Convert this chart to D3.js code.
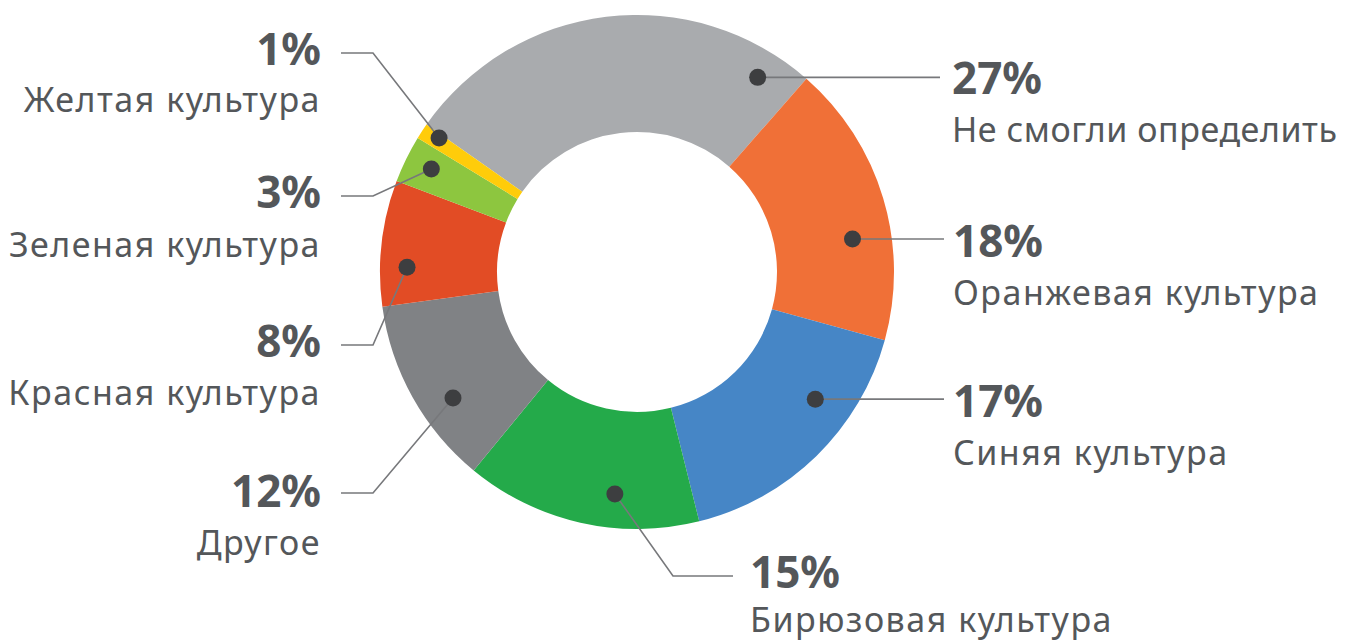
<!DOCTYPE html>
<html>
<head>
<meta charset="utf-8">
<script src="https://cdn.jsdelivr.net/npm/d3@7"></script>
<style>
  body { margin: 0; background: #fff; }
  svg { display: block; }
  .pct { font-family: "Noto Sans", sans-serif; font-weight: 700; font-size: 44px; fill: #54575a; }
  .name { font-family: "Noto Sans", sans-serif; font-weight: 400; font-size: 34px; letter-spacing: 1.5px; fill: #54575a; }
</style>
</head>
<body>
<div id="chart"></div>
<script>
////// DATA
var categories = ["Не смогли определить", "Оранжевая культура", "Синяя культура",
    "Бирюзовая культура", "Другое", "Красная культура", "Зеленая культура", "Желтая культура"];
var shares = [27, 18, 17, 15, 12, 8, 3, 1];
var sliceColors = ["#a9abae", "#f07037", "#4686c6", "#24aa4a", "#808285", "#e24c25", "#8dc63f", "#ffcc0a"];

////// LAYOUT (label placement, not data)
    // dot angle (deg, clockwise from top), dot radius, elbow point, line end, text anchor
var labelLayout = [
    { a: 31.8,  r: 229, elbow: null,       end: [940, null], tx: 952, py: 94,  ny: 142, side: "right" },
    { a: 81.3,  r: 218, elbow: null,       end: [944, null], tx: 953, py: 257, ny: 305, side: "right" },
    { a: 125.5, r: 219, elbow: null,       end: [944, null], tx: 953, py: 417, ny: 465, side: "right" },
    { a: 185.7, r: 223, elbow: [673, 576], end: [733, 576],  tx: 750, py: 588, ny: 632, side: "right" },
    { a: 235.6, r: 223, elbow: [373, 493], end: [341, 493],  tx: 321, py: 507, ny: 555, side: "left" },
    { a: 271.2, r: 230, elbow: [373, 345], end: [341, 345],  tx: 321, py: 357, ny: 405, side: "left" },
    { a: 296.6, r: 230, elbow: [373, 196], end: [341, 196],  tx: 321, py: 208, ny: 257, side: "left" },
    { a: 304.1, r: 239, elbow: [373, 53],  end: [341, 53],   tx: 321, py: 65,  ny: 112, side: "left" }
];

var width = 1349, height = 642;
var cx = 637, cy = 272;
var outerR = 257, innerR = 140;

var svg = d3.select("#chart")
    .append("svg")
    .attr("width", width)
    .attr("height", height);

var g = svg.append("g")
    .attr("transform", "translate(" + cx + "," + cy + ")");

////// PIE
var rad = Math.PI / 180;
var pie = d3.pie()
    .sort(null)
    .value(function(d) { return d; })
    .startAngle(-55 * rad)
    .endAngle(305 * rad);

var arc = d3.arc()
    .innerRadius(innerR)
    .outerRadius(outerR);

var arcs = pie(shares);

g.selectAll("path.slice")
    .data(arcs)
    .enter()
    .append("path")
    .attr("class", "slice")
    .attr("d", arc)
    .attr("fill", function(d, i) { return sliceColors[i]; });

////// LEADER LINES + DOTS
    // dot position from a zero-width arc at the chosen angle
function dotPos(l) {
    var a = l.a * rad;
    return d3.arc().innerRadius(l.r).outerRadius(l.r).centroid({ startAngle: a, endAngle: a });
}

var line = d3.line();

labelLayout.forEach(function(l, i) {
    var p = dotPos(l);
    var pts = [[p[0] + cx, p[1] + cy]];
    if (l.elbow) pts.push(l.elbow);
    pts.push([l.end[0], l.end[1] == null ? p[1] + cy : l.end[1]]);

    svg.append("path")
        .attr("d", line(pts))
        .attr("fill", "none")
        .attr("stroke", "#77787b")
        .attr("stroke-width", 1.6);

    svg.append("circle")
        .attr("cx", pts[0][0])
        .attr("cy", pts[0][1])
        .attr("r", 8.5)
        .attr("fill", "#3d3e40");
});

////// LABELS
labelLayout.forEach(function(l, i) {
    var anchor = l.side === "left" ? "end" : "start";
    svg.append("text")
        .attr("class", "pct")
        .attr("x", l.tx)
        .attr("y", l.py)
        .attr("text-anchor", anchor)
        .text(shares[i] + "%");
    var t = svg.append("text")
        .attr("class", "name")
        .attr("x", l.tx)
        .attr("y", l.ny)
        .attr("text-anchor", anchor)
        .text(categories[i]);
    // squeeze names that would run past the right edge
    if (anchor === "start") {
        var room = width - 12 - l.tx;
        if (t.node().getComputedTextLength() > room) {
            t.style("letter-spacing", "0px")
                .attr("textLength", room)
                .attr("lengthAdjust", "spacing");
        }
    }
});
</script>
</body>
</html>
